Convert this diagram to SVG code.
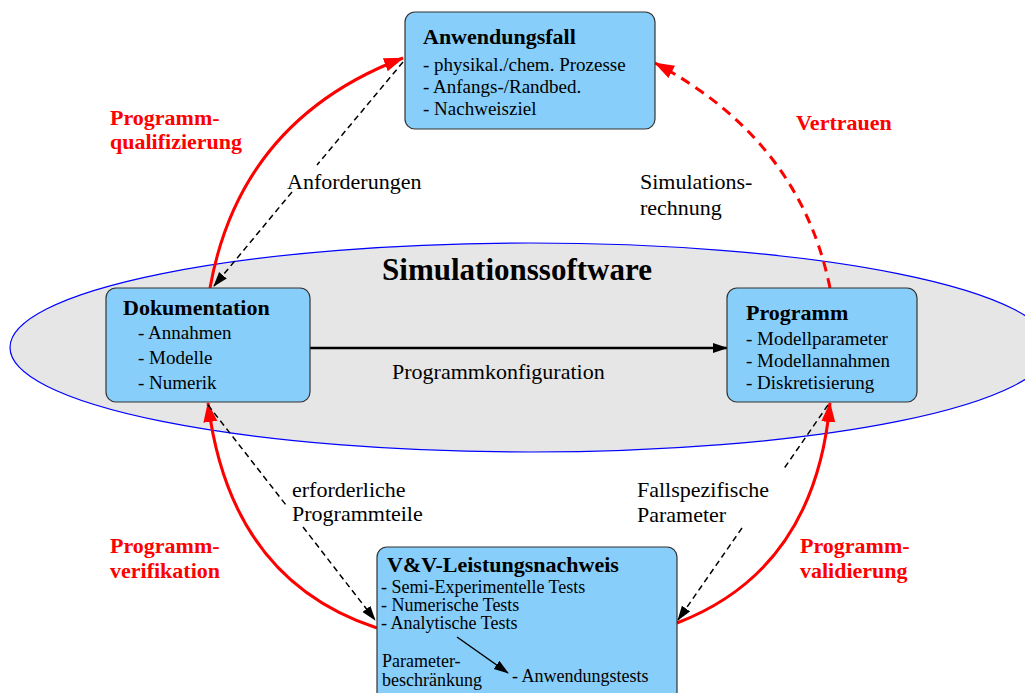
<svg xmlns="http://www.w3.org/2000/svg" width="1025" height="693" viewBox="0 0 1025 693">
<style>
text{font-family:"Liberation Serif","Times New Roman",serif;fill:#000}
.t{font-family:"Liberation Serif","Times New Roman",serif;font-weight:bold;font-size:22px}
.i{font-family:"Liberation Serif","Times New Roman",serif;font-weight:normal;font-size:19px}
.s{font-family:"Liberation Serif","Times New Roman",serif;font-weight:normal;font-size:18px}
.l{font-family:"Liberation Serif","Times New Roman",serif;font-weight:normal;font-size:22px}
.r{font-family:"Liberation Serif","Times New Roman",serif;font-weight:bold;font-size:22px;fill:#ff0000}
.box{fill:#87cefa;stroke:#333;stroke-width:1.2}
.red{fill:none;stroke:#ff0000;stroke-width:3}
.dash{fill:none;stroke:#000;stroke-width:1.5;stroke-dasharray:6 4}
</style>
<defs>
<marker id="ra" markerUnits="userSpaceOnUse" markerWidth="22" markerHeight="16" refX="19" refY="7" orient="auto">
<path d="M0,0 L20,7 L0,14 Z" fill="#ff0000"/>
</marker>
<marker id="ba" markerUnits="userSpaceOnUse" markerWidth="16" markerHeight="12" refX="14" refY="5" orient="auto">
<path d="M0,0 L15,5 L0,10 Z" fill="#000" stroke="none"/>
</marker>
</defs>
<rect width="1025" height="693" fill="#fff"/>
<g id="simulationssoftware">
<ellipse cx="530" cy="347.5" rx="520" ry="104.5" fill="#e6e6e6" stroke="#0000ff" stroke-width="1.2"/>
<text x="517" y="280" text-anchor="middle" style="font-weight:bold;font-size:31px">Simulationssoftware</text>
</g>
<g id="connectors">
<path class="red" d="M210,288 Q240,120 403,58" marker-end="url(#ra)"/>
<path class="red" d="M830,288 Q800,140 655,63" stroke-dasharray="10 7" marker-end="url(#ra)"/>
<path class="red" d="M377,628 Q230,580 208,403" marker-end="url(#ra)"/>
<path class="red" d="M677,623 Q815,570 830,403" marker-end="url(#ra)"/>
<line x1="310" y1="348" x2="727" y2="348" stroke="#000" stroke-width="2.5" marker-end="url(#ba)"/>
<line class="dash" x1="403" y1="62" x2="317" y2="165"/>
<line class="dash" x1="292" y1="192" x2="214" y2="286" marker-end="url(#ba)"/>
<line class="dash" x1="208" y1="405" x2="286" y2="505"/>
<line class="dash" x1="303" y1="527" x2="375" y2="620" marker-end="url(#ba)"/>
<line class="dash" x1="828" y1="405" x2="783" y2="470"/>
<line class="dash" x1="742" y1="528" x2="678" y2="620" marker-end="url(#ba)"/>
<text class="l" x="287" y="189">Anforderungen</text>
<text class="l" x="640" y="189">Simulations-</text>
<text class="l" x="640" y="215">rechnung</text>
<text class="l" x="392" y="379">Programmkonfiguration</text>
<text class="l" x="292" y="497">erforderliche</text>
<text class="l" x="292" y="521">Programmteile</text>
<text class="l" x="637" y="497">Fallspezifische</text>
<text class="l" x="637" y="522">Parameter</text>
<text class="r" x="110" y="125">Programm-</text>
<text class="r" x="110" y="149">qualifizierung</text>
<text class="r" x="796" y="130">Vertrauen</text>
<text class="r" x="110" y="553">Programm-</text>
<text class="r" x="110" y="578">verifikation</text>
<text class="r" x="800" y="553">Programm-</text>
<text class="r" x="800" y="578">validierung</text>
</g>
<g id="anwendungsfall">
<rect class="box" x="405" y="12" width="250" height="117" rx="10"/>
<text class="t" x="423" y="44">Anwendungsfall</text>
<text class="i" x="423" y="71">- physikal./chem. Prozesse</text>
<text class="i" x="423" y="93">- Anfangs-/Randbed.</text>
<text class="i" x="423" y="115">- Nachweisziel</text>
</g>
<g id="dokumentation">
<rect class="box" x="106" y="288" width="204" height="114" rx="10"/>
<text class="t" x="123" y="315">Dokumentation</text>
<text class="i" x="138" y="339">- Annahmen</text>
<text class="i" x="138" y="364">- Modelle</text>
<text class="i" x="138" y="389">- Numerik</text>
</g>
<g id="programm">
<rect class="box" x="727" y="288" width="190" height="114" rx="10"/>
<text class="t" x="746" y="320">Programm</text>
<text class="i" x="746" y="345">- Modellparameter</text>
<text class="i" x="746" y="367">- Modellannahmen</text>
<text class="i" x="746" y="389">- Diskretisierung</text>
</g>
<g id="vv-leistungsnachweis">
<rect class="box" x="377" y="547" width="300" height="160" rx="10"/>
<text class="t" x="387" y="572">V&amp;V-Leistungsnachweis</text>
<text class="s" x="381" y="593">- Semi-Experimentelle Tests</text>
<text class="s" x="381" y="611">- Numerische Tests</text>
<text class="s" x="381" y="629">- Analytische Tests</text>
<text class="s" x="382" y="667">Parameter-</text>
<text class="s" x="382" y="686">beschränkung</text>
<text class="s" x="512" y="682">- Anwendungstests</text>
<line x1="457" y1="637" x2="508" y2="673" stroke="#000" stroke-width="1.5" marker-end="url(#ba)"/>
</g>
</svg>
